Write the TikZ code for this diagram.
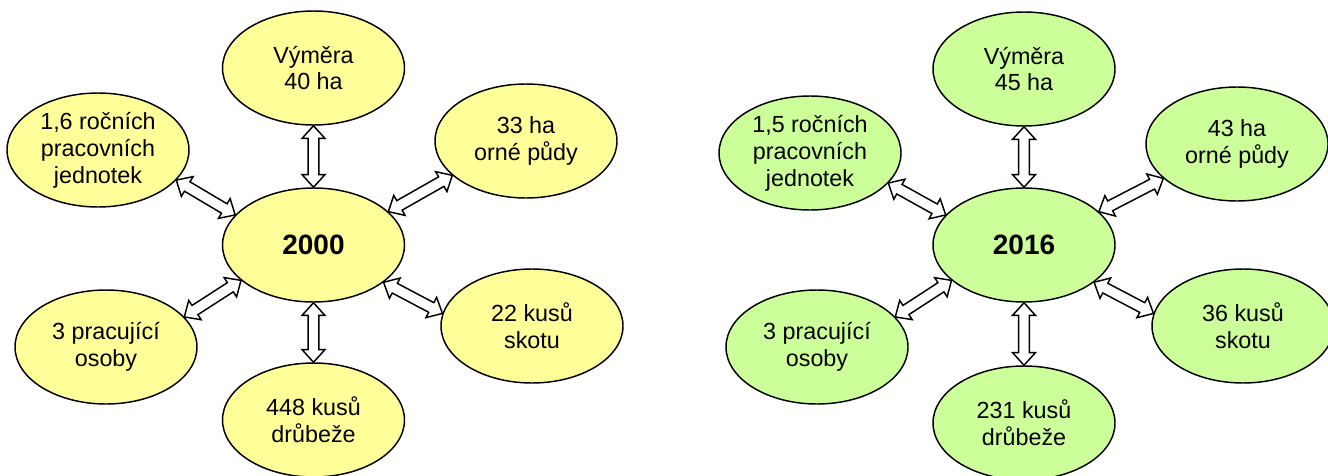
\documentclass[tikz,border=0pt]{standalone}
\usepackage{fontspec}
\setmainfont{Liberation Sans}
\usetikzlibrary{calc,shapes.geometric}
\definecolor{yel}{HTML}{FFFF99}
\definecolor{grn}{HTML}{CCFF99}
\tikzset{
  bub/.style={ellipse, draw=black, line width=1.1pt, inner sep=0pt,
    minimum width=136.5pt, minimum height=85.5pt, align=center,
    font=\fontsize{17.5}{20.2}\selectfont},
  hub/.style={bub, font=\fontsize{21}{24}\selectfont\bfseries},
  dblarr/.style={draw=black, fill=white, line width=1.1pt, line join=miter},
}
\newcommand\ahl{9.5pt}
\newcommand\ahw{8.6pt}
\newcommand\asw{4.1pt}
\newcommand\dbl[2]{%
  \path[dblarr] let \p1=(#1), \p2=(#2), \n1={atan2(\y2-\y1,\x2-\x1)} in
    (\p1)
    -- ($(\p1)+({\n1}:\ahl)+({\n1+90}:\ahw)$)
    -- ($(\p1)+({\n1}:\ahl)+({\n1+90}:\asw)$)
    -- ($(\p2)+({\n1+180}:\ahl)+({\n1+90}:\asw)$)
    -- ($(\p2)+({\n1+180}:\ahl)+({\n1+90}:\ahw)$)
    -- (\p2)
    -- ($(\p2)+({\n1+180}:\ahl)+({\n1-90}:\ahw)$)
    -- ($(\p2)+({\n1+180}:\ahl)+({\n1-90}:\asw)$)
    -- ($(\p1)+({\n1}:\ahl)+({\n1-90}:\asw)$)
    -- ($(\p1)+({\n1}:\ahl)+({\n1-90}:\ahw)$)
    -- cycle;}
\newcommand\spokes[1]{%
  \dbl{#1LT.-21}{#1C.159}
  \dbl{#1RT.205}{#1C.24}
  \dbl{#1LB.21}{#1C.206}
  \dbl{#1RB.172}{#1C.-28}
  \dbl{#1T.south}{#1C.north}
  \dbl{#1B.north}{#1C.south}}
\begin{document}
\begin{tikzpicture}[x=0.75pt,y=-0.75pt]
\useasboundingbox (0,0) rectangle (1328,475);
% left diagram (2000)
\node[hub, fill=yel] (aC)  at (313.5,245) {2000};
\node[bub, fill=yel] (aT)  at (313.5,68)  {Výměra\\40 ha};
\node[bub, fill=yel] (aLT) at (98,150)    {1,6 ročních\\pracovních\\jednotek};
\node[bub, fill=yel] (aRT) at (526,141)   {33 ha\\orné půdy};
\node[bub, fill=yel] (aLB) at (106,347)   {3 pracující\\osoby};
\node[bub, fill=yel] (aRB) at (532,326)   {22 kusů\\skotu};
\node[bub, fill=yel] (aB)  at (313.5,420) {448 kusů\\drůbeže};
\spokes{a}
% right diagram (2016)
\node[hub, fill=grn] (bC)  at (1024,245)  {2016};
\node[bub, fill=grn] (bT)  at (1024,69)   {Výměra\\45 ha};
\node[bub, fill=grn] (bLT) at (810,153)   {1,5 ročních\\pracovních\\jednotek};
\node[bub, fill=grn] (bRT) at (1237,144)  {43 ha\\orné půdy};
\node[bub, fill=grn] (bLB) at (817,347)   {3 pracující\\osoby};
\node[bub, fill=grn] (bRB) at (1243,326)  {36 kusů\\skotu};
\node[bub, fill=grn] (bB)  at (1024,423)  {231 kusů\\drůbeže};
\spokes{b}
\end{tikzpicture}
\end{document}
